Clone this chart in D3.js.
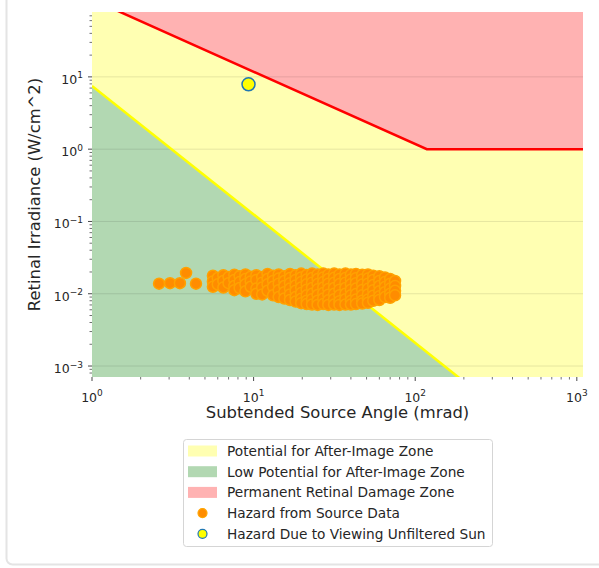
<!DOCTYPE html>
<html>
<head>
<meta charset="utf-8">
<script src="https://cdn.jsdelivr.net/npm/d3@7"></script>
<style>
  body { margin: 0; background: #fff; }
  text { font-family: "DejaVu Sans", sans-serif; fill: #262626; }
</style>
</head>
<body>
<div id="chart"></div>
<script>
// hazard points (angle in mrad, irradiance in W/cm^2)
var hazardAngle = [
  2.6, 3.04, 3.5, 3.82, 4.4,
  5.6, 5.6, 5.6, 6.0, 6.0, 6.5, 6.5, 6.5, 7.0, 7.0,
  7.6, 7.6, 7.6, 7.6, 8.2, 8.2, 8.2, 8.9, 8.9, 8.9, 8.9, 9.6, 9.6, 9.6,
  10.4, 10.4, 10.4, 10.4, 11.3, 11.3, 11.3, 11.3, 12.2, 12.2, 12.2, 12.2,
  13.2, 13.2, 13.2, 13.2, 14.3, 14.3, 14.3, 14.3, 14.3, 15.5, 15.5, 15.5, 15.5, 15.5,
  16.8, 16.8, 16.8, 16.8, 16.8, 16.8, 18.2, 18.2, 18.2, 18.2, 18.2, 18.2,
  19.7, 19.7, 19.7, 19.7, 19.7, 19.7, 19.7, 21.3, 21.3, 21.3, 21.3, 21.3, 21.3, 21.3,
  23.0, 23.0, 23.0, 23.0, 23.0, 23.0, 23.0, 24.9, 24.9, 24.9, 24.9, 24.9, 24.9, 24.9,
  27, 27, 27, 27, 27, 27, 27, 29, 29, 29, 29, 29, 29, 29,
  31.5, 31.5, 31.5, 31.5, 31.5, 31.5, 31.5, 34, 34, 34, 34, 34, 34, 34,
  37, 37, 37, 37, 37, 37, 37, 40, 40, 40, 40, 40, 40, 40,
  43, 43, 43, 43, 43, 43, 43, 47, 47, 47, 47, 47, 47, 47,
  51, 51, 51, 51, 51, 51, 51, 55, 55, 55, 55, 55, 55,
  60, 60, 60, 60, 60, 60, 65, 65, 65, 65, 65, 70, 70, 70, 70, 70, 75, 75, 75, 75
];
var hazardIrradiance = [
  0.0138, 0.0140, 0.0140, 0.0194, 0.0138,
  0.0178, 0.0148, 0.0125, 0.0165, 0.0135, 0.0180, 0.0150, 0.0122, 0.0170, 0.0140,
  0.0183, 0.0155, 0.0128, 0.0112, 0.0175, 0.0145, 0.0120, 0.0185, 0.0160, 0.0135, 0.0108, 0.0172, 0.0148, 0.0125,
  0.0180, 0.0155, 0.0118, 0.0100, 0.0170, 0.0142, 0.0122, 0.0098, 0.0188, 0.0160, 0.0135, 0.0110,
  0.0178, 0.0150, 0.0125, 0.0095, 0.0185, 0.0162, 0.0138, 0.0112, 0.0090, 0.0175, 0.0150, 0.0128, 0.0105, 0.0086,
  0.0188, 0.0165, 0.0140, 0.0118, 0.0098, 0.0082, 0.0180, 0.0155, 0.0130, 0.0110, 0.0090, 0.0078,
  0.0190, 0.0168, 0.0145, 0.0122, 0.0102, 0.0085, 0.0074, 0.0182, 0.0158, 0.0135, 0.0114, 0.0095, 0.0080, 0.0072,
  0.0190, 0.0165, 0.0142, 0.0120, 0.0100, 0.0084, 0.0071, 0.0185, 0.0160, 0.0136, 0.0115, 0.0096, 0.0080, 0.0070,
  0.0190, 0.0168, 0.0145, 0.0122, 0.0102, 0.0086, 0.0072, 0.0184, 0.0160, 0.0138, 0.0116, 0.0097, 0.0081, 0.0070,
  0.0190, 0.0166, 0.0142, 0.0120, 0.0100, 0.0084, 0.0071, 0.0185, 0.0160, 0.0136, 0.0114, 0.0095, 0.0079, 0.0070,
  0.0190, 0.0165, 0.0142, 0.0120, 0.0100, 0.0084, 0.0071, 0.0184, 0.0158, 0.0135, 0.0114, 0.0095, 0.0080, 0.0071,
  0.0188, 0.0164, 0.0140, 0.0118, 0.0099, 0.0083, 0.0072, 0.0183, 0.0158, 0.0134, 0.0113, 0.0095, 0.0080, 0.0073,
  0.0185, 0.0162, 0.0138, 0.0117, 0.0098, 0.0083, 0.0075, 0.0178, 0.0155, 0.0132, 0.0112, 0.0094, 0.0080,
  0.0175, 0.0150, 0.0128, 0.0108, 0.0092, 0.0082, 0.0168, 0.0145, 0.0124, 0.0105, 0.0090, 0.0160, 0.0138, 0.0118, 0.0100, 0.0088, 0.0150, 0.0128, 0.0110, 0.0095
];

// unfiltered sun
var sunAngle = [9.3];
var sunIrradiance = [7.9];

// threshold lines [angle, irradiance]
var afterImageLine = [[1, 7.5], [200, 0.00061]];
var burnLine = [[1, 118], [118, 1], [1092, 1]];

var xDomain = [1, 1092];
var yDomain = [7.05e-4, 79];
var xMajor = [0, 1, 2, 3];
var yMajor = [-3, -2, -1, 0, 1];

var legendItems = [
  {label: "Potential for After-Image Zone", type: "patch", color: "#ffffb2"},
  {label: "Low Potential for After-Image Zone", type: "patch", color: "#b2d8b2"},
  {label: "Permanent Retinal Damage Zone", type: "patch", color: "#ffb2b2"},
  {label: "Hazard from Source Data", type: "dot", color: "#ff8c00", edge: "#ffa500"},
  {label: "Hazard Due to Viewing Unfiltered Sun", type: "dot", color: "#ffff00", edge: "#1f77b4"}
];

var W = 599, H = 568;
var pLeft = 92, pTop = 12, pRight = 583, pBottom = 377;

var svg = d3.select("#chart").append("svg").attr("width", W).attr("height", H);

// card outline
svg.append("rect").attr("x", 6.5).attr("y", -20).attr("width", 700).attr("height", 584.5)
  .attr("rx", 6).attr("fill", "none").attr("stroke", "#e4e4e4").attr("stroke-width", 2);

var x = d3.scaleLog().domain(xDomain).range([pLeft, pRight]);
var y = d3.scaleLog().domain(yDomain).range([pBottom, pTop]);

svg.append("clipPath").attr("id", "plotclip").append("rect")
  .attr("x", pLeft).attr("y", pTop).attr("width", pRight - pLeft).attr("height", pBottom - pTop);

var plot = svg.append("g").attr("clip-path", "url(#plotclip)");

// yellow zone = whole background
plot.append("rect").attr("x", pLeft).attr("y", pTop).attr("width", pRight - pLeft).attr("height", pBottom - pTop)
  .attr("fill", "#ffffb2");

// green zone under after-image threshold
var greenPts = afterImageLine.concat([[afterImageLine[1][0], yDomain[0] / 2], [1, yDomain[0] / 2]]);
plot.append("path")
  .attr("d", d3.line().x(d => x(d[0])).y(d => y(d[1]))(greenPts) + "Z")
  .attr("fill", "#b2d8b2");

// red zone above burn threshold
var redPts = burnLine.concat([[xDomain[1], yDomain[1] * 2], [1, yDomain[1] * 2]]);
plot.append("path")
  .attr("d", d3.line().x(d => x(d[0])).y(d => y(d[1]))(redPts) + "Z")
  .attr("fill", "#ffb2b2");

// horizontal grid
plot.selectAll(".grid").data(yMajor).enter().append("line")
  .attr("x1", pLeft).attr("x2", pRight)
  .attr("y1", d => y(Math.pow(10, d))).attr("y2", d => y(Math.pow(10, d)))
  .attr("stroke", "#000").attr("stroke-opacity", 0.13).attr("stroke-width", 0.8);

plot.append("path")
  .attr("d", d3.line().x(d => x(d[0])).y(d => y(d[1]))(afterImageLine))
  .attr("fill", "none").attr("stroke", "#ffff00").attr("stroke-width", 2.5);

plot.append("path")
  .attr("d", d3.line().x(d => x(d[0])).y(d => y(d[1]))(burnLine))
  .attr("fill", "none").attr("stroke", "#ff0000").attr("stroke-width", 2.5);

// source hazard points
plot.selectAll(".hz").data(d3.range(hazardAngle.length)).enter().append("circle")
  .attr("cx", i => x(hazardAngle[i])).attr("cy", i => y(hazardIrradiance[i]))
  .attr("r", 5.5).attr("fill", "#ff8c00").attr("stroke", "#ffa200").attr("stroke-width", 1.5);

plot.selectAll(".sun").data(d3.range(sunAngle.length)).enter().append("circle")
  .attr("cx", i => x(sunAngle[i])).attr("cy", i => y(sunIrradiance[i]))
  .attr("r", 6.5).attr("fill", "#ffff00").attr("stroke", "#1f77b4").attr("stroke-width", 1.5);

// ticks
var minorX = [], minorY = [];
xMajor.forEach(function(p){ for (var k = 2; k <= 9; k++) { var v = k * Math.pow(10, p); if (v <= xDomain[1]) minorX.push(v); } });
[-4].concat(yMajor).forEach(function(p){ for (var k = 2; k <= 9; k++) { var v = k * Math.pow(10, p); if (v >= yDomain[0] && v <= yDomain[1]) minorY.push(v); } });

var axes = svg.append("g");
axes.selectAll(".xmaj").data(xMajor).enter().append("line")
  .attr("x1", d => x(Math.pow(10, d))).attr("x2", d => x(Math.pow(10, d)))
  .attr("y1", pBottom).attr("y2", pBottom + 4).attr("stroke", "#333").attr("stroke-width", 0.9);
axes.selectAll(".xmin").data(minorX).enter().append("line")
  .attr("x1", d => x(d)).attr("x2", d => x(d))
  .attr("y1", pBottom).attr("y2", pBottom + 2.5).attr("stroke", "#333").attr("stroke-width", 0.7);
axes.selectAll(".ymaj").data(yMajor).enter().append("line")
  .attr("y1", d => y(Math.pow(10, d))).attr("y2", d => y(Math.pow(10, d)))
  .attr("x1", pLeft - 4).attr("x2", pLeft).attr("stroke", "#333").attr("stroke-width", 0.9);
axes.selectAll(".ymin").data(minorY).enter().append("line")
  .attr("y1", d => y(d)).attr("y2", d => y(d))
  .attr("x1", pLeft - 2.5).attr("x2", pLeft).attr("stroke", "#333").attr("stroke-width", 0.7);

function powLabel(sel, p) {
  sel.append("tspan").text("10");
  sel.append("tspan").attr("dy", -5.5).style("font-size", "9px").text(String(p).replace("-", "\u2212"));
}

axes.selectAll(".xl").data(xMajor).enter().append("text")
  .attr("x", d => x(Math.pow(10, d))).attr("y", pBottom + 24.5)
  .attr("text-anchor", "middle").style("font-size", "12.5px")
  .each(function(d){ powLabel(d3.select(this), d); });

axes.selectAll(".yl").data(yMajor).enter().append("text")
  .attr("x", pLeft - 9).attr("y", d => y(Math.pow(10, d)) + 7)
  .attr("text-anchor", "end").style("font-size", "12.5px")
  .each(function(d){ powLabel(d3.select(this), d); });

svg.append("text").attr("x", (pLeft + pRight) / 2).attr("y", 418)
  .attr("text-anchor", "middle").style("font-size", "16.4px")
  .text("Subtended Source Angle (mrad)");

svg.append("text").attr("transform", "translate(40," + ((pTop + pBottom) / 2) + ") rotate(-90)")
  .attr("text-anchor", "middle").style("font-size", "16.4px")
  .text("Retinal Irradiance (W/cm^2)");

// legend
var lg = svg.append("g").attr("transform", "translate(183,439)");
lg.append("rect").attr("x", 0.5).attr("y", 0.5).attr("width", 309).attr("height", 107).attr("rx", 3)
  .attr("fill", "#fff").attr("stroke", "#d5d5d5").attr("stroke-width", 1);
var rows = lg.selectAll(".row").data(legendItems).enter().append("g")
  .attr("transform", (d, i) => "translate(0," + (12 + i * 20.7) + ")");
rows.filter(d => d.type == "patch").append("rect")
  .attr("x", 5).attr("y", -5.5).attr("width", 29).attr("height", 11).attr("fill", d => d.color);
rows.filter(d => d.type == "dot").append("circle")
  .attr("cx", 19.5).attr("cy", 0).attr("r", 4.5)
  .attr("fill", d => d.color).attr("stroke", d => d.edge).attr("stroke-width", 1.2);
rows.append("text").attr("x", 44).attr("y", 4.8).style("font-size", "13.7px").text(d => d.label);
</script>
</body>
</html>
